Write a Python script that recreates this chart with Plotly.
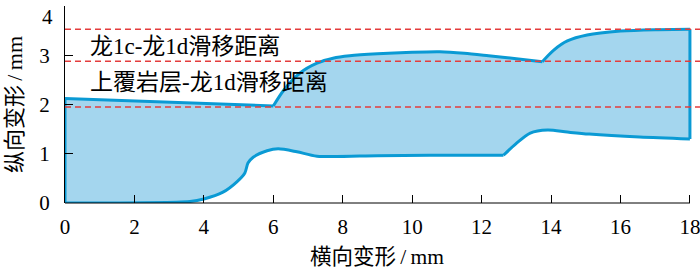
import plotly.graph_objects as go

# ---- data ----
upper_x = [0, 6.0, 6.3, 6.77, 7.26, 7.72, 8.2, 9.0, 10.0, 10.8, 11.5, 12.2, 13.0, 13.75,
           14.07, 14.47, 15.04, 16.0, 17.0, 18.0]
upper_y = [2.12, 1.97, 2.29, 2.64, 2.84, 2.94, 2.99, 3.03, 3.06, 3.07, 3.04, 2.99, 2.93, 2.87,
           3.10, 3.29, 3.41, 3.49, 3.52, 3.53]
upper_breaks = [1, 13]          # indices where the upper boundary has kinks

lower_x = [0, 3.6, 4.0, 4.55, 4.95, 5.18, 5.27, 5.42, 5.82, 6.14, 6.68, 7.26, 9.0, 10.5,
           12.24, 12.63, 13.0, 13.4, 13.9, 14.47, 15.1, 16.55, 18.0]
lower_y = [0, 0.03, 0.08, 0.22, 0.43, 0.61, 0.81, 0.93, 1.06, 1.10, 1.04, 0.95, 0.96, 0.97,
           0.97, 0.97, 1.21, 1.42, 1.48, 1.44, 1.40, 1.34, 1.30]
lower_breaks = [15]

ref_lines = [3.53, 2.88, 1.95]
label_texts = ["龙1c-龙1d滑移距离", "上覆岩层-龙1d滑移距离"]
label_pos = [(0.66, 3.17), (0.66, 2.44)]

x_ticks = [0, 2, 4, 6, 8, 10, 12, 14, 16, 18]
y_ticks = [0, 1, 2, 3, 4]
y_tick_text = ["0", "1", "2", "3", "4"]
x_title = "横向变形\u2009/\u2009mm"
y_title = "纵向变形\u2009/\u2009mm"

XMAX = 18.29
FILL = "#a4d6ee"
EDGE = "#0a9ad4"
RED = "#e43c3c"
SERIF = "Liberation Serif, Times New Roman, Noto Sans CJK SC, serif"

fig = go.Figure()

# filled region
fig.add_trace(go.Scatter(
    x=upper_x + lower_x[::-1], y=upper_y + lower_y[::-1],
    mode="lines", fill="toself", fillcolor=FILL,
    line=dict(width=0, color=FILL), hoverinfo="skip", showlegend=False))


def segments(xs, ys, breaks):
    idx = [0] + breaks + [len(xs) - 1]
    for a, b in zip(idx[:-1], idx[1:]):
        yield xs[a:b + 1], ys[a:b + 1]


for sx, sy in list(segments(upper_x, upper_y, upper_breaks)) + list(segments(lower_x, lower_y, lower_breaks)):
    shape = "linear" if len(sx) == 2 else "spline"
    fig.add_trace(go.Scatter(x=sx, y=sy, mode="lines",
                             line=dict(color=EDGE, width=3, shape=shape, smoothing=0.8),
                             hoverinfo="skip", showlegend=False))

# closing edges at both ends
for xe, ya, yb in [(upper_x[0], upper_y[0], lower_y[0]), (upper_x[-1], upper_y[-1], lower_y[-1])]:
    fig.add_trace(go.Scatter(x=[xe, xe], y=[ya, yb], mode="lines",
                             line=dict(color=EDGE, width=3),
                             hoverinfo="skip", showlegend=False))

for v in ref_lines:
    fig.add_hline(y=v, line=dict(color=RED, width=1.5, dash="6px,4px"))

for t, (ax, ay) in zip(label_texts, label_pos):
    fig.add_annotation(x=ax, y=ay, text=t, showarrow=False, xanchor="left", yanchor="middle",
                       font=dict(family=SERIF, size=23, color="black"))

# top y tick label, nudged down so it stays inside the page (as in the reference)
fig.add_annotation(xref="paper", x=0, y=y_ticks[-1], text=y_tick_text[-1], showarrow=False,
                   xanchor="right", yanchor="top", xshift=-10, yshift=3,
                   font=dict(family=SERIF, size=21, color="black"))

# x axis title centred under the 0..18 span
fig.add_annotation(x=(x_ticks[0] + x_ticks[-1]) / 2, yref="paper", y=0, text=x_title,
                   showarrow=False, xanchor="center", yanchor="top", yshift=-40,
                   font=dict(family=SERIF, size=21.5, color="black"))

# bottom axis line that stops at the last tick
fig.add_shape(type="line", xref="paper", yref="paper", x0=0, x1=x_ticks[-1] / XMAX, y0=0, y1=0,
              line=dict(color="black", width=1), layer="above")

fig.update_xaxes(range=[0, XMAX], tickvals=x_ticks, ticks="inside", ticklen=8, tickcolor="black",
                 showline=False, showgrid=False, zeroline=False, automargin=False,
                 ticklabeloverflow="allow", ticklabelstandoff=9,
                 tickfont=dict(family=SERIF, size=21, color="black"))
fig.update_yaxes(range=[0, 4], tickvals=y_ticks, ticktext=y_tick_text[:-1] + [""],
                 ticks="inside", ticklen=8, tickcolor="black",
                 showline=True, linecolor="black", linewidth=1, showgrid=False, zeroline=False,
                 automargin=False, ticklabeloverflow="allow", ticklabelstandoff=10,
                 tickfont=dict(family=SERIF, size=21, color="black"),
                 title=dict(text=y_title, font=dict(family=SERIF, size=22, color="black"), standoff=10))

fig.update_layout(width=700, height=270, margin=dict(l=65, r=0, t=6, b=67),
                  plot_bgcolor="white", paper_bgcolor="white")

fig.write_html("out.html", config={"displayModeBar": False},
               post_script="document.body.style.margin='0';")
